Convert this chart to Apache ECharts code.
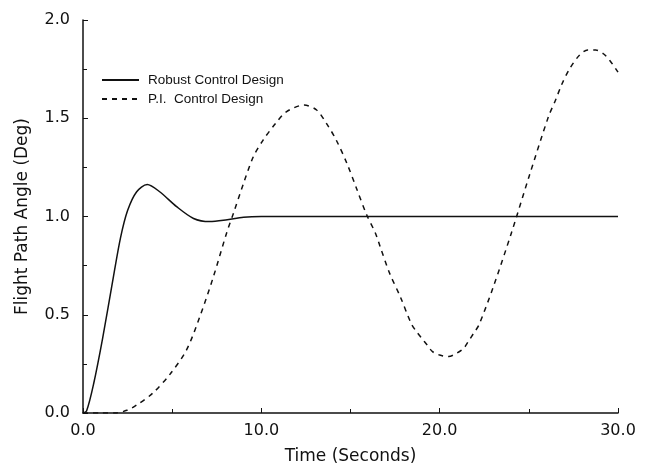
<!DOCTYPE html>
<html>
<head>
<meta charset="utf-8">
<script src="https://cdn.jsdelivr.net/npm/echarts@6/dist/echarts.min.js"></script>
<style>
  html, body { margin: 0; padding: 0; background: #fff; }
  #chart { width: 647px; height: 463px; }
</style>
</head>
<body>
<div id="chart"></div>
<script>
// values: time (s) and flight path angle (deg)
const robustTime = [0, 0.2, 0.6, 1.1, 1.7, 2.1, 2.5, 3.0, 3.6, 4.3, 5.25, 6.2, 7.1, 8.0, 9.0, 10.0, 12.0, 15.0, 20.0, 25.0, 30.0]
const robustAngle = [0, 0.01, 0.15, 0.38, 0.69, 0.89, 1.03, 1.125, 1.163, 1.126, 1.05, 0.99, 0.974, 0.982, 0.996, 1.0, 1.0, 1.0, 1.0, 1.0, 1.0]

const piTime = [0, 1.0, 1.8, 2.5, 3.0, 3.9, 4.9, 5.8, 6.55, 7.3, 8.05, 8.45, 9.0, 9.55, 10.1, 10.8, 11.4, 12.4, 13.1, 13.65, 14.2, 14.8, 15.35, 15.9, 16.4, 16.65, 17.2, 17.8, 18.4, 18.7, 19.0, 19.3, 19.6, 20.0, 20.5, 20.95, 21.35, 21.6, 21.9, 22.2, 23.0, 24.0, 25.0, 26.1, 26.5, 26.85, 27.3, 27.85, 28.3, 28.75, 29.2, 29.55, 30.0]
const piAngle = [0, 0, 0, 0.015, 0.04, 0.1, 0.2, 0.32, 0.49, 0.69, 0.915, 1.02, 1.168, 1.304, 1.389, 1.474, 1.533, 1.567, 1.542, 1.474, 1.389, 1.27, 1.14, 1.01, 0.915, 0.85, 0.71, 0.59, 0.456, 0.414, 0.38, 0.346, 0.312, 0.295, 0.287, 0.304, 0.329, 0.363, 0.405, 0.448, 0.64, 0.91, 1.2, 1.508, 1.593, 1.673, 1.754, 1.822, 1.847, 1.847, 1.827, 1.793, 1.735]

const seriesNames = ['Robust Control Design', 'P.I.  Control Design']

const zip = (xs, ys) => xs.map((x, i) => [x, ys[i]])

const chart = echarts.init(document.getElementById('chart'))
const tickFont = 'DejaVu Sans, sans-serif'
const legendFont = 'Liberation Sans, Arial, Helvetica, sans-serif'

const option = {
  animation: false,
  backgroundColor: '#fff',
  grid: { left: 83, right: 29, top: 20, bottom: 50, outerBoundsMode: 'none' },
  legend: {
    orient: 'vertical',
    left: 96,
    top: 68,
    itemWidth: 37,
    itemHeight: 10,
    itemGap: 5,
    itemStyle: { opacity: 0 },
    textStyle: { fontFamily: legendFont, fontSize: 13.5, color: '#111', padding: [0, 0, 0, 4] },
    data: seriesNames
  },
  xAxis: {
    type: 'value',
    min: 0,
    max: 30,
    interval: 10,
    name: 'Time (Seconds)',
    nameLocation: 'middle',
    nameGap: 35,
    nameTextStyle: { fontFamily: tickFont, fontSize: 17, color: '#111' },
    axisLine: { show: true, lineStyle: { color: '#111', width: 1.5 } },
    axisTick: { show: true, inside: true, length: 5, lineStyle: { color: '#111' } },
    minorTick: { show: true, splitNumber: 2, length: 4, lineStyle: { color: '#111' } },
    splitLine: { show: false },
    axisLabel: {
      fontFamily: tickFont, fontSize: 16, color: '#111', margin: 10,
      formatter: v => v.toFixed(1)
    }
  },
  yAxis: {
    type: 'value',
    min: 0,
    max: 2,
    interval: 0.5,
    name: 'Flight Path Angle (Deg)',
    nameLocation: 'middle',
    nameGap: 52,
    nameTextStyle: { fontFamily: tickFont, fontSize: 17, color: '#111' },
    axisLine: { show: true, lineStyle: { color: '#111', width: 1.5 } },
    axisTick: { show: true, inside: true, length: 5, lineStyle: { color: '#111' } },
    minorTick: { show: true, splitNumber: 2, length: 4, lineStyle: { color: '#111' } },
    splitLine: { show: false },
    axisLabel: {
      fontFamily: tickFont, fontSize: 16, color: '#111', margin: 13,
      formatter: v => v.toFixed(1)
    }
  },
  series: [
    {
      name: seriesNames[0],
      type: 'line',
      data: zip(robustTime, robustAngle),
      smooth: 0.3,
      showSymbol: false,
      symbol: 'none',
      lineStyle: { color: '#111', width: 1.5, type: 'solid' },
      itemStyle: { color: '#111' }
    },
    {
      name: seriesNames[1],
      type: 'line',
      data: zip(piTime, piAngle),
      smooth: 0.3,
      showSymbol: false,
      symbol: 'none',
      lineStyle: { color: '#111', width: 1.5, type: [5, 5] },
      itemStyle: { color: '#111' }
    }
  ]
}
chart.setOption(option)
</script>
</body>
</html>
